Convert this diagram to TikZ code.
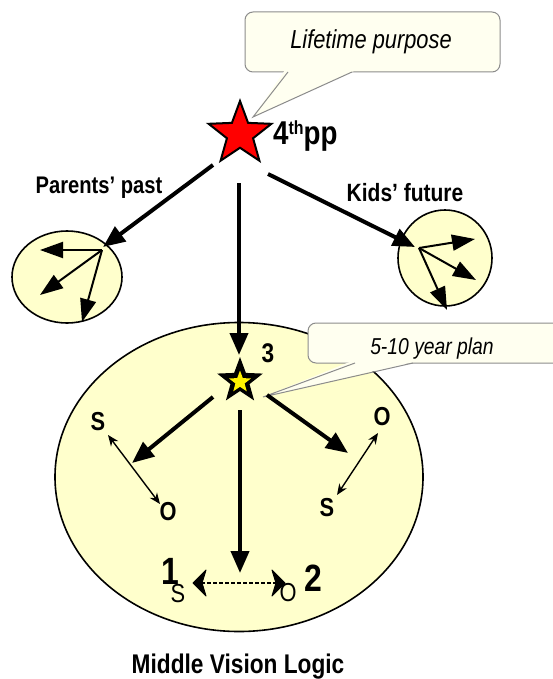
\documentclass[tikz,border=0pt]{standalone}
\usepackage{fontspec}
\setmainfont{Liberation Sans}
\newfontfamily\nar[FakeStretch=0.84]{Liberation Sans}
\usetikzlibrary{arrows.meta,shapes.geometric}
\definecolor{ellfill}{RGB}{255,255,204}
\definecolor{callfill}{RGB}{255,255,240}
\definecolor{callline}{RGB}{140,140,140}
\begin{document}
\begin{tikzpicture}[x=1pt,y=-1pt,
  ell/.style={ellipse, draw=black, line width=1.6pt, fill=ellfill, inner sep=0pt},
  bigarrow/.style={line width=4pt, -{Triangle[length=22pt,width=18pt]}},
  smallarrow/.style={line width=2pt, -{Triangle[length=23pt,width=16pt]}},
  soarrow/.style={line width=1.4pt, {Stealth[length=11pt,width=9pt]}-{Stealth[length=11pt,width=9pt]}},
  dashline/.style={line width=2pt, dash pattern=on 4pt off 2pt},
  chevron/.style={fill=black, draw=black, line width=1pt, line join=round},
  callbox/.style={draw=callline, line width=1pt, fill=callfill, rounded corners=8pt},
  lbl/.style={font=\nar\bfseries\fontsize{24}{24}\selectfont, inner sep=0pt},
  italbl/.style={font=\nar\itshape\fontsize{26}{26}\selectfont, inner sep=0pt},
  solbl/.style={font=\nar\bfseries\fontsize{26}{26}\selectfont, inner sep=0pt},
  numlbl/.style={font=\nar\bfseries\fontsize{38}{38}\selectfont, inner sep=0pt},
  smlbl/.style={font=\nar\fontsize{26}{26}\selectfont, inner sep=0pt}
]
\useasboundingbox (0,0) rectangle (553,679);

% ellipses
\node[ell, minimum width=110pt, minimum height=92pt] (pe) at (67,277) {};
\node[ell, minimum width=94pt, minimum height=96pt] (ke) at (445,258) {};
\node[ell, minimum width=368pt, minimum height=309pt] (mv) at (239,477) {};

% callout 1
\draw[callbox] (245,12) rectangle (500,72);
\fill[callfill] (285,70) -- (253,117) -- (356,70) -- cycle;
\draw[callline, line width=1pt] (288,72) -- (253,117) -- (352,72);
\node[italbl] (lp) at (371,42) {Lifetime purpose};

% stars
\node[star, star points=5, star point ratio=2.4, minimum size=66pt, inner sep=0pt,
      fill=red, draw=black, line width=2pt] (red) at (240,134) {};
\node[anchor=base west, inner sep=0pt, font=\nar\bfseries\fontsize{33}{33}\selectfont] (pp) at (273,145) {4\raisebox{10pt}{\fontsize{19}{19}\selectfont th}pp};

% labels
\node[lbl] (pl) at (99,188) {Parents’ past};
\node[lbl, font=\nar\bfseries\fontsize{25}{25}\selectfont] (kl) at (405,193) {Kids’ future};

% coordinates
\coordinate (r1) at (213,165);
\coordinate (r2) at (268,174);
\coordinate (r3) at (239,183);
\coordinate (pt) at (103,247);
\coordinate (kt) at (415,247);
\coordinate (yt) at (239,355);
\coordinate (p0) at (102,250);
\coordinate (pa) at (40,250);
\coordinate (pb) at (40,295);
\coordinate (pc) at (82,322);
\coordinate (k0) at (419,248);
\coordinate (ka) at (475,239);
\coordinate (kb) at (476,280);
\coordinate (kc) at (447,310);

\draw[bigarrow] (r1) -- (pt);
\draw[bigarrow] (r2) -- (kt);
\draw[bigarrow] (r3) -- (yt);
\draw[smallarrow] (p0) -- (pa);
\draw[smallarrow] (p0) -- (pb);
\draw[smallarrow] (p0) -- (pc);
\draw[smallarrow] (k0) -- (ka);
\draw[smallarrow] (k0) -- (kb);
\draw[smallarrow] (k0) -- (kc);

% callout 2
\draw[callbox] (308,323) rectangle (575,363);
\fill[callfill] (352,361) -- (263,397) -- (418,361) -- cycle;
\draw[callline, line width=1pt] (355,363) -- (263,397) -- (413,363);
\node[italbl, font=\nar\itshape\fontsize{23}{23}\selectfont] (yp) at (432,349) {5-10 year plan};

% yellow star
\node[star, star points=5, star point ratio=2.4, minimum size=48pt, inner sep=0pt,
      fill=black] (ys) at (240,381) {};
\node[star, star points=5, star point ratio=2.4, minimum size=23pt, inner sep=0pt,
      fill=yellow] (ysi) at (240,382) {};
\node[lbl, font=\nar\bfseries\fontsize{27}{27}\selectfont] (three) at (268,353) {3};

\coordinate (y1) at (213,397);
\coordinate (y2) at (267,395);
\coordinate (y3) at (240,410);
\coordinate (yl) at (132,463);
\coordinate (yr) at (348,453);
\coordinate (yd) at (240,573);
\draw[bigarrow] (y1) -- (yl);
\draw[bigarrow] (y2) -- (yr);
\draw[bigarrow] (y3) -- (yd);

% S-O pairs
\node[solbl] (s1) at (98,422) {S};
\node[solbl] (o1) at (168,512) {O};
\draw[soarrow] (108,435) -- (160,504);
\node[solbl] (o2) at (382,417) {O};
\node[solbl] (s2) at (327,508) {S};
\draw[soarrow] (378,433) -- (337,495);

% bottom
\node[numlbl] (n1) at (170,571) {1};
\node[numlbl] (n2) at (313,578) {2};
\node[smlbl] (s3) at (178,594) {S};
\node[smlbl] (o3) at (288,593) {O};
\coordinate (dl) at (193,583);
\coordinate (dr) at (285,583);
\draw[dashline] ([xshift=8pt]dl) -- ([xshift=-8pt]dr);
\fill[chevron] (dl) -- ++(13,-13) -- ++(-4,13) -- ++(4,13) -- cycle;
\fill[chevron] (dr) -- ++(-13,-13) -- ++(4,13) -- ++(-4,13) -- cycle;

\node[font=\nar\bfseries\fontsize{27}{27}\selectfont, inner sep=0pt] (mvl) at (238,667) {Middle Vision Logic};
\end{tikzpicture}
\end{document}
